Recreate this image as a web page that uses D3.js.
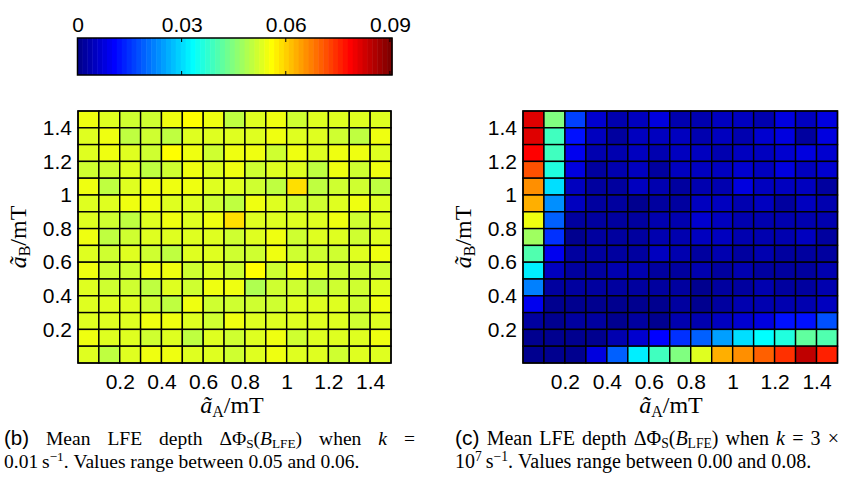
<!DOCTYPE html>
<html>
<head>
<meta charset="utf-8">
<script src="https://cdn.jsdelivr.net/npm/d3@7"></script>
<style>
  body { margin: 0; background: #fff; }
  svg { display: block; }
</style>
</head>
<body>
<svg id="fig" width="848" height="480"></svg>
<script>
// Hyperfine couplings at the cell centres (mT)
const aA = [0.05, 0.15, 0.25, 0.35, 0.45, 0.55, 0.65, 0.75, 0.85, 0.95, 1.05, 1.15, 1.25, 1.35, 1.45];
// Rows listed from the top of the panel (largest aB) down
const aB = [1.45, 1.35, 1.25, 1.15, 1.05, 0.95, 0.85, 0.75, 0.65, 0.55, 0.45, 0.35, 0.25, 0.15, 0.05];

// Mean LFE depth, k = 0.01 s^-1 (one row per aB, columns follow aA)
const depthSlow = [
  [0.0546, 0.0532, 0.0518, 0.0517, 0.0545, 0.0560, 0.0544, 0.0503, 0.0531, 0.0546, 0.0516, 0.0532, 0.0530, 0.0531, 0.0533],
  [0.0531, 0.0545, 0.0502, 0.0517, 0.0504, 0.0532, 0.0530, 0.0531, 0.0533, 0.0546, 0.0531, 0.0530, 0.0518, 0.0503, 0.0544],
  [0.0532, 0.0545, 0.0531, 0.0517, 0.0561, 0.0544, 0.0518, 0.0546, 0.0545, 0.0516, 0.0545, 0.0531, 0.0546, 0.0544, 0.0532],
  [0.0517, 0.0518, 0.0531, 0.0503, 0.0516, 0.0545, 0.0532, 0.0546, 0.0517, 0.0531, 0.0530, 0.0502, 0.0545, 0.0518, 0.0546],
  [0.0545, 0.0503, 0.0531, 0.0544, 0.0546, 0.0545, 0.0532, 0.0530, 0.0517, 0.0502, 0.0588, 0.0503, 0.0518, 0.0517, 0.0504],
  [0.0531, 0.0532, 0.0545, 0.0546, 0.0531, 0.0530, 0.0517, 0.0503, 0.0545, 0.0532, 0.0518, 0.0516, 0.0531, 0.0544, 0.0532],
  [0.0532, 0.0517, 0.0502, 0.0531, 0.0545, 0.0530, 0.0546, 0.0589, 0.0531, 0.0532, 0.0530, 0.0531, 0.0545, 0.0517, 0.0532],
  [0.0545, 0.0503, 0.0517, 0.0531, 0.0532, 0.0530, 0.0531, 0.0518, 0.0532, 0.0546, 0.0517, 0.0531, 0.0530, 0.0516, 0.0532],
  [0.0531, 0.0517, 0.0532, 0.0518, 0.0503, 0.0531, 0.0530, 0.0517, 0.0516, 0.0545, 0.0518, 0.0517, 0.0516, 0.0531, 0.0546],
  [0.0545, 0.0517, 0.0518, 0.0546, 0.0544, 0.0517, 0.0531, 0.0516, 0.0560, 0.0517, 0.0545, 0.0532, 0.0518, 0.0517, 0.0516],
  [0.0531, 0.0517, 0.0516, 0.0503, 0.0532, 0.0518, 0.0545, 0.0546, 0.0490, 0.0517, 0.0516, 0.0502, 0.0518, 0.0517, 0.0531],
  [0.0532, 0.0531, 0.0530, 0.0517, 0.0503, 0.0545, 0.0518, 0.0517, 0.0516, 0.0517, 0.0531, 0.0532, 0.0530, 0.0518, 0.0546],
  [0.0531, 0.0532, 0.0530, 0.0545, 0.0546, 0.0531, 0.0517, 0.0544, 0.0532, 0.0531, 0.0530, 0.0531, 0.0532, 0.0517, 0.0531],
  [0.0545, 0.0531, 0.0532, 0.0517, 0.0531, 0.0503, 0.0530, 0.0518, 0.0531, 0.0546, 0.0517, 0.0532, 0.0531, 0.0530, 0.0545],
  [0.0532, 0.0503, 0.0531, 0.0545, 0.0546, 0.0530, 0.0531, 0.0517, 0.0532, 0.0545, 0.0531, 0.0530, 0.0518, 0.0531, 0.0532]
];

// Mean LFE depth, k = 3e7 s^-1
const depthFast = [
  [0.0814, 0.0446, 0.0163, 0.0064, 0.0035, 0.0050, 0.0078, 0.0036, 0.0035, 0.0049, 0.0050, 0.0034, 0.0078, 0.0050, 0.0077],
  [0.0812, 0.0389, 0.0120, 0.0050, 0.0021, 0.0049, 0.0051, 0.0050, 0.0035, 0.0049, 0.0036, 0.0064, 0.0078, 0.0022, 0.0077],
  [0.0786, 0.0388, 0.0092, 0.0035, 0.0036, 0.0050, 0.0035, 0.0049, 0.0050, 0.0034, 0.0050, 0.0049, 0.0064, 0.0078, 0.0063],
  [0.0715, 0.0361, 0.0078, 0.0021, 0.0035, 0.0050, 0.0022, 0.0049, 0.0050, 0.0051, 0.0064, 0.0050, 0.0078, 0.0049, 0.0064],
  [0.0658, 0.0304, 0.0050, 0.0021, 0.0022, 0.0050, 0.0035, 0.0021, 0.0036, 0.0035, 0.0078, 0.0050, 0.0049, 0.0050, 0.0020],
  [0.0630, 0.0234, 0.0049, 0.0021, 0.0020, 0.0007, 0.0022, 0.0021, 0.0050, 0.0049, 0.0035, 0.0050, 0.0021, 0.0049, 0.0036],
  [0.0545, 0.0191, 0.0021, 0.0021, 0.0022, 0.0020, 0.0035, 0.0036, 0.0064, 0.0050, 0.0035, 0.0034, 0.0035, 0.0036, 0.0035],
  [0.0474, 0.0142, 0.0014, 0.0021, 0.0020, 0.0022, 0.0035, 0.0036, 0.0050, 0.0049, 0.0035, 0.0034, 0.0036, 0.0050, 0.0021],
  [0.0404, 0.0092, 0.0021, 0.0020, 0.0022, 0.0021, 0.0050, 0.0035, 0.0021, 0.0036, 0.0020, 0.0035, 0.0021, 0.0022, 0.0021],
  [0.0319, 0.0050, 0.0021, 0.0020, 0.0035, 0.0036, 0.0021, 0.0022, 0.0035, 0.0021, 0.0036, 0.0020, 0.0021, 0.0022, 0.0035],
  [0.0220, 0.0021, 0.0020, 0.0021, 0.0022, 0.0021, 0.0020, 0.0021, 0.0008, 0.0022, 0.0021, 0.0035, 0.0020, 0.0021, 0.0036],
  [0.0092, 0.0007, 0.0008, 0.0007, 0.0006, 0.0007, 0.0008, 0.0021, 0.0007, 0.0021, 0.0035, 0.0036, 0.0035, 0.0034, 0.0050],
  [0.0021, 0.0007, 0.0020, 0.0021, 0.0008, 0.0022, 0.0007, 0.0035, 0.0036, 0.0050, 0.0064, 0.0078, 0.0120, 0.0121, 0.0170],
  [0.0007, 0.0008, 0.0007, 0.0006, 0.0035, 0.0064, 0.0102, 0.0149, 0.0191, 0.0248, 0.0304, 0.0333, 0.0361, 0.0418, 0.0404],
  [0.0007, 0.0006, 0.0008, 0.0078, 0.0191, 0.0319, 0.0389, 0.0446, 0.0531, 0.0630, 0.0658, 0.0701, 0.0743, 0.0842, 0.0757]
];

const axisTicks = [0.2, 0.4, 0.6, 0.8, 1, 1.2, 1.4];
const axisRange = [0, 1.5];
const colorTicks = [0, 0.03, 0.06, 0.09];
const colorRange = [0, 0.0906];

// MATLAB-style jet colormap with m levels
function jet(m) {
  const n = Math.ceil(m / 4);
  const u = [];
  for (let i = 1; i <= n; i++) u.push(i / n);
  for (let i = 1; i < n; i++) u.push(1);
  for (let i = n; i >= 1; i--) u.push(i / n);
  const g0 = Math.ceil(n / 2) - (m % 4 === 1 ? 1 : 0);
  const cols = Array.from({ length: m }, () => [0, 0, 0]);
  u.forEach((val, k) => {
    const gi = g0 + k, ri = gi + n, bi = gi - n;
    if (gi >= 0 && gi < m) cols[gi][1] = val;
    if (ri >= 0 && ri < m) cols[ri][0] = val;
    if (bi >= 0 && bi < m) cols[bi][2] = val;
  });
  return cols.map(c => d3.rgb(Math.round(c[0] * 255), Math.round(c[1] * 255), Math.round(c[2] * 255)).formatHex());
}

const palette = jet(64);
const color = d3.scaleQuantize().domain(colorRange).range(palette);

const svg = d3.select("#fig");
const SANS = "'Liberation Sans', Arial, Helvetica, sans-serif";
const SERIF = "'Liberation Serif', 'Times New Roman', serif";
const TICK = 21;

// ---------- colour bar ----------
const cb = { x0: 77.5, x1: 392, y0: 38, y1: 75 };
const cbScale = d3.scaleLinear().domain(colorRange).range([cb.x0, cb.x1]);
const cbg = svg.append("g");
cbg.selectAll("rect.band")
  .data(palette)
  .join("rect")
  .attr("class", "band")
  .attr("x", (d, i) => cbScale(colorRange[0] + i * (colorRange[1] - colorRange[0]) / palette.length))
  .attr("y", cb.y0)
  .attr("width", (cb.x1 - cb.x0) / palette.length + 0.5)
  .attr("height", cb.y1 - cb.y0)
  .attr("fill", d => d);
cbg.append("rect")
  .attr("x", cb.x0).attr("y", cb.y0)
  .attr("width", cb.x1 - cb.x0).attr("height", cb.y1 - cb.y0)
  .attr("fill", "none").attr("stroke", "#000").attr("stroke-width", 1.5);
// inward tick marks on top and bottom edges
cbg.selectAll("line.tt")
  .data(colorTicks.filter(d => d > 0))
  .join("line").attr("class", "tt")
  .attr("x1", d => cbScale(d)).attr("x2", d => cbScale(d))
  .attr("y1", cb.y0).attr("y2", cb.y0 + 4)
  .attr("stroke", "#000").attr("stroke-width", 1);
cbg.selectAll("line.tb")
  .data(colorTicks.filter(d => d > 0))
  .join("line").attr("class", "tb")
  .attr("x1", d => cbScale(d)).attr("x2", d => cbScale(d))
  .attr("y1", cb.y1 - 4).attr("y2", cb.y1)
  .attr("stroke", "#000").attr("stroke-width", 1);
const cbAxis = cbg.append("g")
  .attr("transform", `translate(0,${cb.y0})`)
  .call(d3.axisTop(cbScale).tickValues(colorTicks).tickSize(0).tickPadding(6).tickFormat(d3.format("~g")));
cbAxis.select(".domain").remove();
cbAxis.selectAll("text").attr("font-family", SANS).attr("font-size", TICK).attr("fill", "#000");

// ---------- heat-map panels ----------
function panel(data, box, yLabelX, xLabelX) {
  const x = d3.scaleLinear().domain(axisRange).range([box.x0, box.x1]);
  const y = d3.scaleLinear().domain(axisRange).range([box.y1, box.y0]);
  const stepA = aA[1] - aA[0];
  const stepB = aB[0] - aB[1];
  const g = svg.append("g");

  const cells = [];
  data.forEach((row, ri) => row.forEach((v, ci) => cells.push({ a: aA[ci], b: aB[ri], v })));

  g.selectAll("rect.cell")
    .data(cells)
    .join("rect")
    .attr("class", "cell")
    .attr("x", d => x(d.a - stepA / 2))
    .attr("y", d => y(d.b + stepB / 2))
    .attr("width", d => x(d.a + stepA / 2) - x(d.a - stepA / 2))
    .attr("height", d => y(d.b - stepB / 2) - y(d.b + stepB / 2))
    .attr("fill", d => color(d.v))
    .attr("stroke", "#000")
    .attr("stroke-width", 1.4);

  g.append("rect")
    .attr("x", box.x0).attr("y", box.y0)
    .attr("width", box.x1 - box.x0).attr("height", box.y1 - box.y0)
    .attr("fill", "none").attr("stroke", "#000").attr("stroke-width", 1.4);

  const fmt = d3.format("~g");
  const ax = g.append("g").attr("transform", `translate(0,${box.y1})`)
    .call(d3.axisBottom(x).tickValues(axisTicks).tickSize(0).tickPadding(11).tickFormat(fmt));
  const ay = g.append("g").attr("transform", `translate(${box.x0},0)`)
    .call(d3.axisLeft(y).tickValues(axisTicks).tickSize(0).tickPadding(6).tickFormat(fmt));
  [ax, ay].forEach(a => {
    a.select(".domain").remove();
    a.selectAll("text").attr("font-family", SANS).attr("font-size", TICK).attr("fill", "#000");
  });

  // x-axis label: ã_A / mT
  const xl = g.append("text")
    .attr("x", xLabelX).attr("y", 413)
    .attr("text-anchor", "middle")
    .attr("font-family", SERIF).attr("font-size", 24).attr("fill", "#000");
  xl.append("tspan").attr("font-style", "italic").text("ã");
  xl.append("tspan").attr("font-size", 16).attr("dy", 4).text("A");
  xl.append("tspan").attr("dy", -4).text("/mT");

  // y-axis label: ã_B / mT
  const cy = (box.y0 + box.y1) / 2;
  const yl = g.append("text")
    .attr("transform", `translate(${yLabelX},${cy}) rotate(-90)`)
    .attr("text-anchor", "middle")
    .attr("font-family", SERIF).attr("font-size", 24).attr("fill", "#000");
  yl.append("tspan").attr("font-style", "italic").text("ã");
  yl.append("tspan").attr("font-size", 16).attr("dy", 4).text("B");
  yl.append("tspan").attr("dy", -4).text("/mT");
}

panel(depthSlow, { x0: 78, x1: 391, y0: 111, y1: 363 }, 26, 232);
panel(depthFast, { x0: 523, x1: 837.5, y0: 111, y1: 363 }, 471, 671);

// ---------- captions ----------
function word(parent, segs, size) {
  const t = parent.append("text")
    .attr("font-family", SERIF).attr("font-size", size).attr("fill", "#000");
  let shift = 0;
  segs.forEach(s => {
    const target = s.sub ? size * 0.16 : s.sup ? -size * 0.34 : 0;
    const sp = t.append("tspan").text(s.t).attr("dy", target - shift);
    shift = target;
    if (s.sub || s.sup) sp.attr("font-size", size * 0.68);
    if (s.it) sp.attr("font-style", "italic");
    if (s.sans) sp.attr("font-family", SANS).attr("font-size", size * 1.05);
  });
  return t;
}
function captionLine(words, x0, x1, yBase, size, justify) {
  const g = svg.append("g");
  const nodes = words.map(w => word(g, w, size));
  const widths = nodes.map(n => n.node().getComputedTextLength());
  const total = d3.sum(widths);
  const gap = justify ? (x1 - x0 - total) / (words.length - 1) : size * 0.25;
  let cx = x0;
  nodes.forEach((n, i) => {
    n.attr("x", cx).attr("y", yBase);
    cx += widths[i] + gap;
  });
}
const W = s => [{ t: s }];
const dPhi = [{ t: "ΔΦ" }, { t: "S", sub: 1 }, { t: "(" }, { t: "B", it: 1 }, { t: "LFE", sub: 1 }, { t: ")" }];

captionLine([[{ t: "(b)", sans: 1 }], W("Mean"), W("LFE"), W("depth"), dPhi, W("when"), [{ t: "k", it: 1 }], W("=")],
  4, 415, 445, 19.5, true);
captionLine([[{ t: "0.01\u2009s" }, { t: "−1", sup: 1 }, { t: "." }], W("Values"), W("range"), W("between"), W("0.05"), W("and"), W("0.06.")],
  4, 415, 468, 19.5, false);
captionLine([[{ t: "(c)", sans: 1 }], W("Mean"), W("LFE"), W("depth"), dPhi, W("when"), [{ t: "k", it: 1 }], W("="), W("3"), W("×")],
  455, 839, 445, 20, true);
captionLine([[{ t: "10" }, { t: "7", sup: 1 }, { t: "\u2009s" }, { t: "−1", sup: 1 }, { t: "." }], W("Values"), W("range"), W("between"), W("0.00"), W("and"), W("0.08.")],
  455, 839, 468, 20, false);
</script>
</body>
</html>
